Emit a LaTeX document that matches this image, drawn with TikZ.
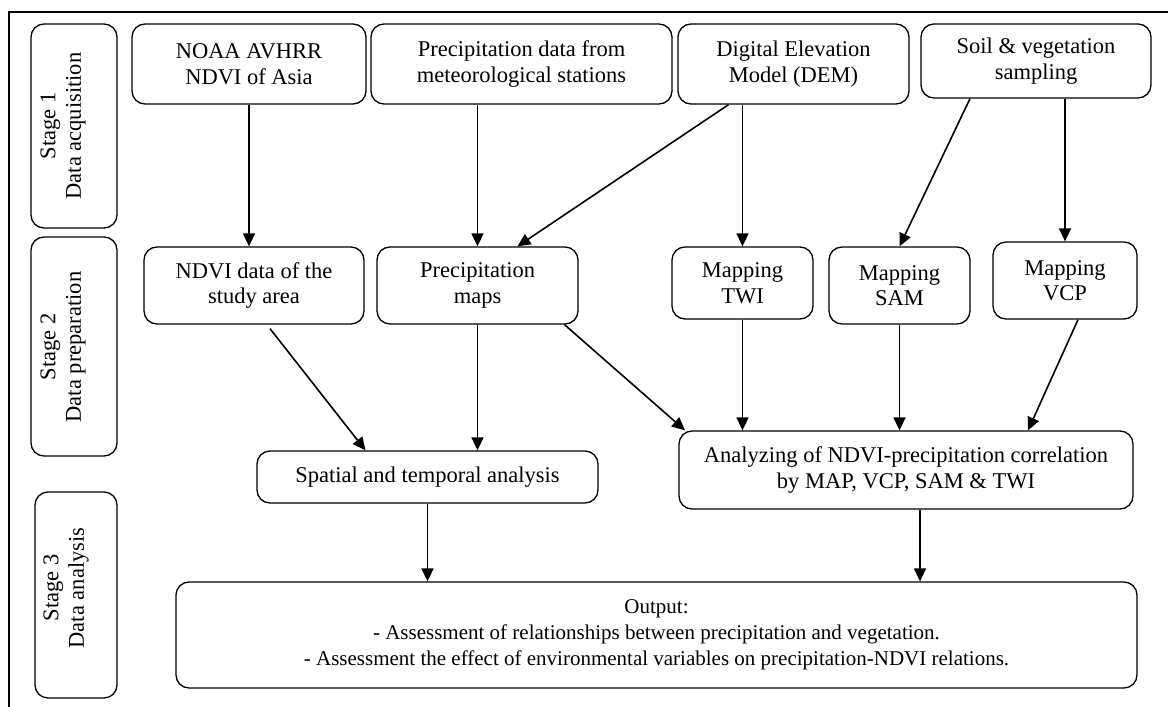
\documentclass[tikz,border=0pt]{standalone}
\usepackage{fontspec}
\setmainfont{Liberation Serif}
\usetikzlibrary{arrows.meta}
\tikzset{
  box/.style={draw, line width=1.3pt, rounded corners=13pt, inner sep=0pt, align=center,
    font=\fontsize{22.5}{25.5}\selectfont},
  stagetxt/.style={rotate=90, align=center, inner sep=0pt, font=\fontsize{22.5}{25.5}\selectfont},
  conn/.style={line width=1.6pt, -{Triangle[length=13pt,width=12pt]}}
}
\begin{document}
\begin{tikzpicture}[x=1pt,y=-1pt]
\useasboundingbox (0,0) rectangle (1168,707);
% frame
\draw[line width=1.2pt] (9,707) -- (9,12) -- (1168,12);
% stage boxes
\node[box, minimum width=86pt, minimum height=204pt] (s1) at (74,126) {};
\node[stagetxt] (s1t) at (63,126) {Stage 1\\Data acquisition};
\node[box, minimum width=86pt, minimum height=219pt] (s2) at (74,346.5) {};
\node[stagetxt] (s2t) at (63,347) {Stage 2\\Data preparation};
\node[box, minimum width=82pt, minimum height=206pt] (s3) at (76,595) {};
\node[stagetxt] (s3t) at (66,588) {Stage 3\\Data analysis};
% top row
\node[box, minimum width=234pt, minimum height=80pt] (noaa) at (249,64) {NOAA AVHRR\\NDVI of Asia};
\node[box, minimum width=301pt, minimum height=80pt] (pdata) at (521.5,64) {Precipitation data from\\meteorological stations};
\node[box, minimum width=231pt, minimum height=80pt] (dem) at (793.5,64) {Digital Elevation\\Model (DEM)};
\node[box, minimum width=230pt, minimum height=74pt] (soil) at (1036,61) {Soil \& vegetation\\sampling};
% second row
\node[box, minimum width=220pt, minimum height=77pt] (ndvi) at (254,285.5) {NDVI data of the\\study area};
\node[box, minimum width=201pt, minimum height=77pt] (pmaps) at (477.5,285.5) {Precipitation\\maps};
\node[box, minimum width=141pt, minimum height=72pt] (twi) at (742.5,283) {Mapping\\TWI};
\node[box, minimum width=141pt, minimum height=77pt] (sam) at (899.5,285.5) {Mapping\\SAM};
\node[box, minimum width=144pt, minimum height=77pt] (vcp) at (1065,280.5) {Mapping\\VCP};
% third row
\node[box, minimum width=341pt, minimum height=52pt] (spat) at (427.5,477) {Spatial and temporal analysis};
\node[box, minimum width=454pt, minimum height=78pt] (ana) at (906,470) {Analyzing of NDVI-precipitation correlation\\by MAP, VCP, SAM \& TWI};
% output
\node[box, minimum width=961pt, minimum height=106pt, font=\fontsize{21}{26}\selectfont] (out) at (656.5,635) {Output:\\- Assessment of relationships between precipitation and vegetation.\\- Assessment the effect of environmental variables on precipitation-NDVI relations.};
% connectors
\draw[conn] (noaa.south) -- (noaa.south |- ndvi.north);
\draw[conn] (pdata.south -| pmaps.north) -- (pmaps.north);
\draw[conn] ([xshift=-65pt]dem.south) -- ([xshift=40pt]pmaps.north);
\draw[conn] (twi.north |- dem.south) -- (twi.north);
\draw[conn] ([xshift=-66pt]soil.south) -- (sam.north);
\draw[conn] (vcp.north |- soil.south) -- (vcp.north);
\draw[conn] ([xshift=16pt,yshift=-4pt]ndvi.south) -- ([xshift=-62pt]spat.north);
\draw[conn] (pmaps.south) -- (pmaps.south |- spat.north);
\draw[conn] ([xshift=87pt]pmaps.south) -- ([xshift=-221pt]ana.north);
\draw[conn] (twi.south) -- (twi.south |- ana.north);
\draw[conn] (sam.south) -- (sam.south |- ana.north);
\draw[conn] ([xshift=13pt]vcp.south) -- ([xshift=122pt]ana.north);
\draw[conn] (spat.south) -- (spat.south |- out.north);
\draw[conn] ([xshift=14pt]ana.south) -- ([xshift=14pt]ana.south |- out.north);
\end{tikzpicture}
\end{document}
